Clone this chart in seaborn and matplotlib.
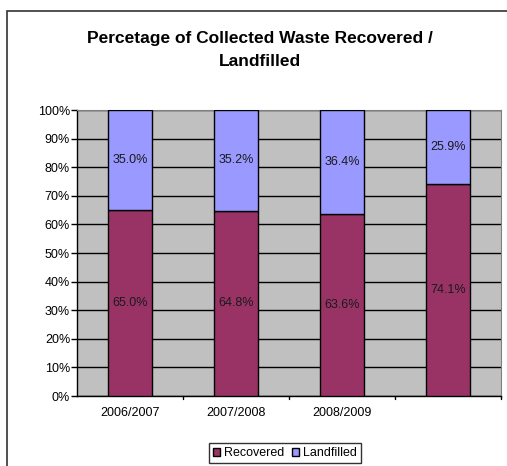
import matplotlib
matplotlib.use('Agg')
import matplotlib.pyplot as plt
import matplotlib.patches as mpatches
import seaborn as sns
import pandas as pd

years = ['2006/2007', '2007/2008', '2008/2009', '']
recovered = [65.0, 64.8, 63.6, 74.1]
landfilled = [35.0, 35.2, 36.4, 25.9]

sns.set_style('white')
plt.rcParams['font.family'] = ['Liberation Sans', 'DejaVu Sans']
plt.rcParams['text.color'] = 'black'
plt.rcParams['xtick.color'] = 'black'
plt.rcParams['ytick.color'] = 'black'

df = pd.DataFrame({'year': [str(i) for i in range(len(years))],
                   'recovered': recovered, 'landfilled': landfilled})

fig = plt.figure(figsize=(5.07, 4.66), dpi=100)
ax = fig.add_axes([0.1519, 0.1502, 0.8363, 0.6137])
ax.set_facecolor('#C0C0C0')

# outer chart frame (cut off on the right and bottom like the screenshot)
fig.patches.append(mpatches.Rectangle((7 / 507, -0.1), 1.2, 1.1 - 11 / 466,
                                      transform=fig.transFigure, fill=False,
                                      edgecolor='#333333', lw=1.2, zorder=0))

sns.barplot(data=df, x='year', y='recovered', color='#993366', width=0.41,
            edgecolor='black', linewidth=1, ax=ax, zorder=3, saturation=1)
sns.barplot(data=df, x='year', y='landfilled', bottom=df['recovered'], color='#9999FF',
            width=0.41, edgecolor='black', linewidth=1, ax=ax, zorder=3, saturation=1)

for i in range(len(years)):
    ax.text(i, recovered[i] / 2, f'{recovered[i]:.1f}%', ha='center', va='center',
            fontsize=9, color='#1a1a1a', zorder=5)
    ax.text(i, recovered[i] + landfilled[i] / 2, f'{landfilled[i]:.1f}%', ha='center',
            va='center', fontsize=9, color='#1a1a1a', zorder=5)

ax.set_xlim(-0.5, len(years) - 0.5)
ax.set_ylim(0, 100)
ax.set_yticks(range(0, 101, 10))
ax.set_yticklabels([f'{v}%' for v in range(0, 101, 10)], fontsize=9)
ax.set_xticks(range(len(years)))
ax.set_xticklabels(years, fontsize=9)
ax.tick_params(axis='x', length=0, pad=8)
ax.tick_params(axis='y', length=4, width=1, direction='out', left=True, pad=1)
for b in [0.5, 1.5, 2.5, 3.5]:
    ax.plot([b, b], [0, -1.2], color='black', lw=1, clip_on=False)

ax.yaxis.grid(True, color='black', lw=1, zorder=1)
ax.set_axisbelow(True)
ax.set_xlabel('')
ax.set_ylabel('')
for s in ['top', 'right']:
    ax.spines[s].set_color('#808080')
for s in ['left', 'bottom']:
    ax.spines[s].set_color('black')
    ax.spines[s].set_linewidth(1)

fig.text(260 / 507, 1 - 50 / 466, 'Percetage of Collected Waste Recovered /\nLandfilled',
         ha='center', va='center', fontsize=12.5, fontweight='bold', linespacing=1.75)

handles = [mpatches.Patch(facecolor='#993366', edgecolor='black', label='Recovered'),
           mpatches.Patch(facecolor='#9999FF', edgecolor='black', label='Landfilled')]
leg = fig.legend(handles=handles, loc='center', bbox_to_anchor=(285 / 507, 1 - 453 / 466),
                 ncol=2, fontsize=9, frameon=True, fancybox=False, handlelength=0.6,
                 handleheight=0.6, handletextpad=0.3, columnspacing=0.6, borderpad=0.35)
leg.get_frame().set_edgecolor('black')
leg.get_frame().set_linewidth(1)

fig.savefig('out.png', dpi=100)
